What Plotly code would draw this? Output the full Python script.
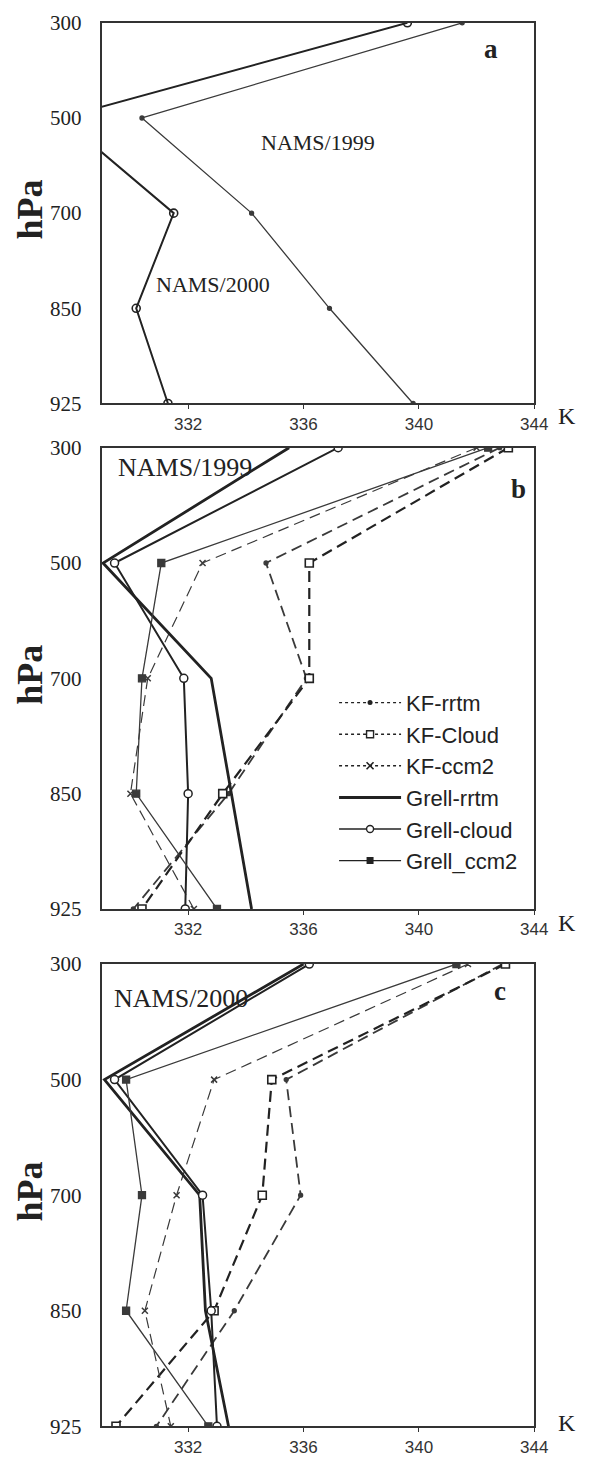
import plotly.graph_objects as go

# ---------------- data ----------------
levels = ["300", "500", "700", "850", "925"]   # hPa
x_ticks = [332, 336, 340, 344]                  # K

# panel a
a_nams1999 = [341.5, 330.4, 334.2, 336.9, 339.8]
a_nams2000 = [339.6, 327.6, 331.5, 330.2, 331.3]

# panel b (NAMS/1999)
b_kf_rrtm = [342.8, 334.7, 336.1, 333.4, 330.1]
b_kf_cloud = [343.1, 336.2, 336.2, 333.2, 330.4]
b_kf_ccm2 = [342.0, 332.5, 330.6, 330.0, 332.2]
b_grell_rrtm = [335.5, 329.05, 332.8, 333.5, 334.2]
b_grell_cloud = [337.2, 329.45, 331.85, 332.0, 331.9]
b_grell_ccm2 = [342.4, 331.07, 330.4, 330.2, 333.0]

# panel c (NAMS/2000)
c_kf_rrtm = [342.9, 335.4, 335.9, 333.6, 330.9]
c_kf_cloud = [343.0, 334.9, 334.57, 332.9, 329.5]
c_kf_ccm2 = [341.7, 332.9, 331.6, 330.5, 331.4]
c_grell_rrtm = [336.0, 329.1, 332.4, 332.6, 333.4]
c_grell_cloud = [336.2, 329.45, 332.5, 332.8, 333.0]
c_grell_ccm2 = [341.3, 329.85, 330.4, 329.85, 332.7]

# ---------------- layout helpers ----------------
W, H = 603, 1457
def px(x): return x / W
def py(y): return 1 - y / H

panels = [(11, 398), (443, 912), (968, 1438)]
XL, XR = 104, 547

DARK = "#222222"
MID = "#3a3a3a"
SERIF = "Liberation Serif"
SANS = "Liberation Sans"

fig = go.Figure()

def add(x, axis, name, width, color, dash="solid", symbol=None, size=7,
        fill=None, mline=1.3):
    marker = dict(size=0)
    mode = "lines"
    if symbol is not None:
        mode = "lines+markers"
        marker = dict(symbol=symbol, size=size,
                      color=fill if fill else color,
                      line=dict(color=color, width=mline))
    fig.add_trace(go.Scatter(
        x=x, y=levels, mode=mode, name=name, showlegend=False,
        line=dict(color=color, width=width, dash=dash),
        marker=marker, xaxis="x" + axis, yaxis="y" + axis))

LONG = "11px,6px"

# panel a
add(a_nams1999, "", "NAMS/1999", 1.3, MID, symbol="circle", size=4)
add(a_nams2000, "", "NAMS/2000", 2.0, DARK, symbol="circle-open", size=8, mline=1.6)

# panels b and c
for ax, d in (("2", (b_kf_rrtm, b_kf_cloud, b_kf_ccm2, b_grell_rrtm, b_grell_cloud, b_grell_ccm2)),
              ("3", (c_kf_rrtm, c_kf_cloud, c_kf_ccm2, c_grell_rrtm, c_grell_cloud, c_grell_ccm2))):
    kr, kc, kx, gr, gc, gx = d
    add(kr, ax, "KF-rrtm", 1.8, MID, dash=LONG, symbol="circle", size=4)
    add(kc, ax, "KF-Cloud", 2.2, DARK, dash=LONG, symbol="square", size=8,
        fill="white", mline=1.6)
    add(kx, ax, "KF-ccm2", 1.2, MID, dash=LONG, symbol="x-thin", size=6, mline=1.5)
    add(gr, ax, "Grell-rrtm", 2.8, DARK)
    add(gc, ax, "Grell-cloud", 2.0, DARK, symbol="circle", size=8, fill="white", mline=1.5)
    add(gx, ax, "Grell_ccm2", 1.3, MID, symbol="square", size=7)

# legend entries (dotted KF, solid Grell) as data-less traces
leg = [
    ("KF-rrtm", dict(color=DARK, width=1.4, dash="dot"), dict(symbol="circle", size=5, color=DARK)),
    ("KF-Cloud", dict(color=DARK, width=1.4, dash="dot"),
     dict(symbol="square", size=7, color="white", line=dict(color=DARK, width=1.4))),
    ("KF-ccm2", dict(color=DARK, width=1.4, dash="dot"),
     dict(symbol="x-thin", size=7, line=dict(color=DARK, width=1.6))),
    ("Grell-rrtm", dict(color=DARK, width=3), None),
    ("Grell-cloud", dict(color=DARK, width=1.4),
     dict(symbol="circle", size=7, color="white", line=dict(color=DARK, width=1.4))),
    ("Grell_ccm2", dict(color=DARK, width=1.4), dict(symbol="square", size=7, color=DARK)),
]
for i, (name, ln, mk) in enumerate(leg):
    fig.add_trace(go.Scatter(
        x=[None], y=[None], name=name, legendgroup=name,
        mode="lines+markers" if mk else "lines",
        line=ln, marker=mk if mk else {}, xaxis="x2", yaxis="y2"))

xcommon = dict(range=[329, 344], tickvals=x_ticks, ticktext=[str(t) for t in x_ticks],
               ticks="outside", ticklen=4, tickwidth=1.2, tickcolor="#333",
               showline=True, mirror=True, linecolor="#333", linewidth=1.6,
               showgrid=False, zeroline=False,
               tickfont=dict(family=SANS, size=17, color="#333"),
               domain=[px(XL), px(XR)])
ycommon = dict(type="category", categoryorder="array", categoryarray=levels,
               range=[4, 0], ticks="", showline=True, mirror=True,
               linecolor="#333", linewidth=1.6, showgrid=False, zeroline=False,
               tickfont=dict(family=SERIF, size=21, color=DARK),
               ticklabelstandoff=14)

layout = dict(width=W, height=H, margin=dict(l=0, r=0, t=0, b=0),
              paper_bgcolor="white", plot_bgcolor="white",
              showlegend=True,
              legend=dict(x=px(342), y=py(681), xanchor="left", yanchor="top",
                          font=dict(family=SANS, size=22, color=DARK),
                          bgcolor="rgba(0,0,0,0)", itemwidth=62,
                          tracegroupgap=7, traceorder="normal"))
for i, (t, b) in enumerate(panels):
    s = "" if i == 0 else str(i + 1)
    layout["xaxis" + s] = dict(xcommon, anchor="y" + s)
    layout["yaxis" + s] = dict(ycommon, anchor="x" + s, domain=[py(b), py(t)])
fig.update_layout(**layout)

def ann(text, x, y, size, bold=False, family=SERIF, angle=0):
    fig.add_annotation(text=("<b>%s</b>" % text) if bold else text,
                       x=px(x), y=py(y), xref="paper", yref="paper",
                       xanchor="center", yanchor="middle", showarrow=False,
                       textangle=angle, font=dict(family=family, size=size, color=DARK))

ann("a", 503, 38, 27, bold=True)
ann("b", 531, 485, 27, bold=True)
ann("c", 512, 995, 27, bold=True)
ann("NAMS/1999", 326, 133, 22)
ann("NAMS/2000", 218, 277, 22)
ann("NAMS/1999", 189, 463, 26)
ann("NAMS/2000", 185, 1003, 26)
for (t, b), ky in zip(panels, (411, 926, 1435)):
    ann("K", 580, ky, 24)
    ann("hPa", 31, (t + b) / 2 - 4, 36, bold=True, angle=-90)

fig.write_html("out.html")
